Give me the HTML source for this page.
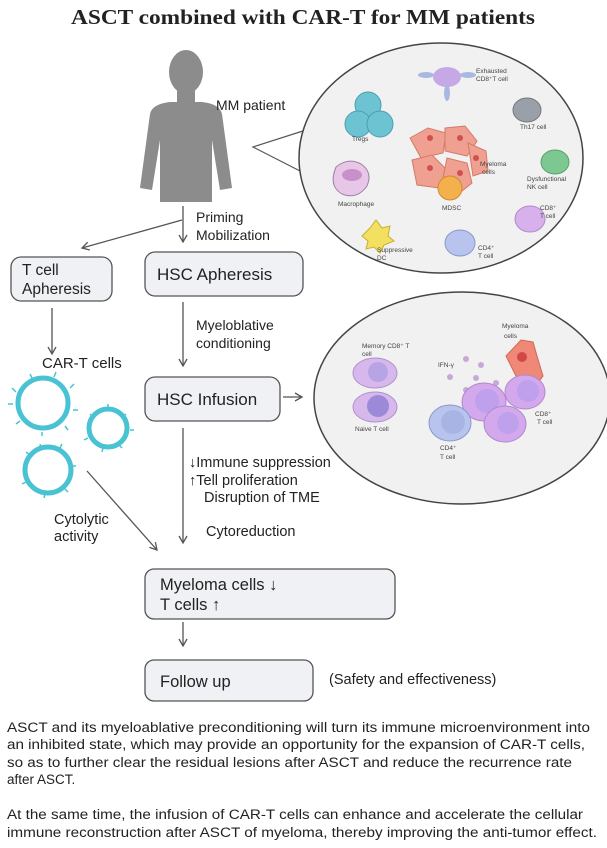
<!DOCTYPE html>
<html><head><meta charset="utf-8"><style>
html,body{margin:0;padding:0;background:#fff;}
svg{display:block;font-family:"Liberation Sans",Arial,sans-serif;}
</style></head><body>
<svg width="607" height="848" viewBox="0 0 607 848" xmlns="http://www.w3.org/2000/svg">
<defs>
<marker id="a" markerWidth="10" markerHeight="10" refX="8" refY="5" orient="auto" markerUnits="userSpaceOnUse">
<path d="M1,1 L8,5 L1,9" fill="none" stroke="#555" stroke-width="1.3"/></marker>
</defs>
<text x="303" y="24" text-anchor="middle" font-size="21" font-weight="bold" fill="#222" font-family="Liberation Serif, serif" textLength="464" lengthAdjust="spacingAndGlyphs">ASCT combined with CAR-T for MM patients</text>

<!-- person -->
<g fill="#8c8c8c">
<ellipse cx="186" cy="72" rx="17" ry="22"/>
<rect x="177" y="88" width="18" height="16"/>
<path d="M150,114 Q152,104 170,102 L202,102 Q220,104 222,114 L232,188 L220,190 L212,140 L212,202 L160,202 L160,140 L152,190 L140,188 Z"/>
</g>
<text x="216" y="110" font-size="14" fill="#222">MM  patient</text>

<!-- big circle 1 -->
<path d="M306,130 L253,147 L302,172" fill="none" stroke="#555" stroke-width="1.2"/>
<ellipse cx="441" cy="158" rx="142" ry="115" fill="#f1f1f1" stroke="#444" stroke-width="1.5"/>
<g font-size="6.5" fill="#444">
<ellipse cx="447" cy="77" rx="14" ry="10" fill="#c6a8e6"/>
<ellipse cx="426" cy="75" rx="8" ry="3" fill="#a8b8e0"/><ellipse cx="468" cy="75" rx="8" ry="3" fill="#a8b8e0"/>
<ellipse cx="447" cy="93" rx="3" ry="8" fill="#a8b8e0"/>
<text x="476" y="73">Exhausted</text><text x="476" y="81">CD8⁺T cell</text>
<circle cx="368" cy="105" r="13" fill="#6ec3d3" stroke="#4a9fb0"/>
<circle cx="358" cy="124" r="13" fill="#6ec3d3" stroke="#4a9fb0"/>
<circle cx="380" cy="124" r="13" fill="#6ec3d3" stroke="#4a9fb0"/>
<text x="352" y="141">Tregs</text>
<ellipse cx="527" cy="110" rx="14" ry="12" fill="#9aa0aa" stroke="#777"/>
<text x="520" y="129">Th17 cell</text>
<g fill="#f0a090" stroke="#d47a68">
<path d="M410,138 l18,-10 18,5 -3,20 -22,5 z"/><path d="M445,128 l20,-2 12,15 -10,15 -22,-5 z"/>
<path d="M412,160 l20,-5 15,15 -8,18 -22,-3 z"/><path d="M447,158 l20,5 5,20 -15,12 -15,-12 z"/>
<path d="M468,143 l18,8 2,20 -15,5 z"/>
</g>
<g fill="#d05050"><circle cx="430" cy="138" r="3"/><circle cx="460" cy="138" r="3"/><circle cx="430" cy="168" r="3"/><circle cx="460" cy="173" r="3"/><circle cx="476" cy="158" r="3"/></g>
<text x="480" y="166">Myeloma</text><text x="482" y="174">cells</text>
<circle cx="450" cy="188" r="12" fill="#f3b04c" stroke="#d08a30"/>
<text x="442" y="210">MDSC</text>
<path d="M336,167 q12,-10 25,-3 q12,8 6,22 q-10,14 -25,8 q-14,-8 -6,-27z" fill="#e8c6e8" stroke="#a080a8"/>
<ellipse cx="352" cy="175" rx="10" ry="6" fill="#c890c8"/>
<text x="338" y="206">Macrophage</text>
<ellipse cx="555" cy="162" rx="14" ry="12" fill="#7cc890" stroke="#5aa070"/>
<text x="527" y="181">Dysfunctional</text><text x="527" y="189">NK cell</text>
<ellipse cx="530" cy="219" rx="15" ry="13" fill="#d8b0ec" stroke="#b088c8"/>
<text x="540" y="210">CD8⁺</text><text x="540" y="218">T cell</text>
<path d="M370,228 l6,-8 6,8 8,-2 -2,10 6,5 -10,4 -4,8 -6,-6 -8,2 2,-8 -6,-5z" fill="#f3e060" stroke="#c8b030"/>
<text x="377" y="252">Suppressive</text><text x="377" y="260">DC</text>
<ellipse cx="460" cy="243" rx="15" ry="13" fill="#b8c4ee" stroke="#8898cc"/>
<text x="478" y="250">CD4⁺</text><text x="478" y="258">T cell</text>
</g>

<!-- priming -->
<line x1="183" y1="206" x2="183" y2="242" stroke="#555" stroke-width="1.3" marker-end="url(#a)"/>
<line x1="182" y1="220" x2="82" y2="248" stroke="#555" stroke-width="1.3" marker-end="url(#a)"/>
<text x="196" y="222" font-size="14" fill="#222">Priming</text>
<text x="196" y="240" font-size="14" fill="#222">Mobilization</text>

<rect x="11" y="257" width="101" height="44" rx="10" fill="#f0f1f5" stroke="#555" stroke-width="1.3"/>
<text x="22" y="275" font-size="15.5" fill="#222">T cell</text>
<text x="22" y="294" font-size="15.5" fill="#222">Apheresis</text>
<rect x="145" y="252" width="158" height="44" rx="10" fill="#f0f1f5" stroke="#555" stroke-width="1.3"/>
<text x="157" y="280" font-size="17" fill="#222">HSC Apheresis</text>

<line x1="52" y1="308" x2="52" y2="354" stroke="#555" stroke-width="1.3" marker-end="url(#a)"/>
<text x="42" y="368" font-size="15" fill="#222">CAR-T cells</text>
<line x1="183" y1="302" x2="183" y2="366" stroke="#555" stroke-width="1.3" marker-end="url(#a)"/>
<text x="196" y="330" font-size="14" fill="#222">Myeloblative</text>
<text x="196" y="348" font-size="14" fill="#222">conditioning</text>

<!-- CAR-T circles -->
<g fill="#fff" stroke="#49c3d3" stroke-width="5">
<circle cx="43" cy="403" r="25"/><circle cx="108" cy="428" r="19"/><circle cx="48" cy="470" r="23"/>
</g>
<g stroke="#49c3d3" stroke-width="1.5" fill="none">
<path d="M12,388 l4,4 M30,374 l2,4 M56,372 l-2,5 M74,384 l-4,4 M78,410 l-5,0 M68,430 l-3,-4 M42,436 l0,-4 M16,424 l4,-3 M8,404 l5,0"/>
<path d="M90,414 l3,3 M108,404 l0,4 M126,414 l-3,3 M134,430 l-4,0 M122,448 l-3,-3 M102,452 l1,-4 M84,440 l4,-2"/>
<path d="M26,452 l4,3 M40,444 l1,4 M62,444 l-2,4 M76,466 l-4,0 M68,492 l-3,-3 M44,498 l1,-4 M22,484 l4,-2"/>
</g>

<rect x="145" y="377" width="135" height="44" rx="10" fill="#f0f1f5" stroke="#555" stroke-width="1.3"/>
<text x="157" y="405" font-size="17" fill="#222">HSC Infusion</text>
<line x1="283" y1="397" x2="302" y2="397" stroke="#555" stroke-width="1.3" marker-end="url(#a)"/>

<!-- circle 2 -->
<ellipse cx="462" cy="398" rx="148" ry="106" fill="#f1f1f1" stroke="#444" stroke-width="1.5"/>
<g font-size="6.5" fill="#444">
<text x="362" y="348">Memory CD8⁺ T</text><text x="362" y="356">cell</text>
<ellipse cx="375" cy="373" rx="22" ry="15" fill="#d6b8ec" stroke="#b090cc"/><circle cx="378" cy="372" r="10" fill="#b8a4e4"/>
<ellipse cx="375" cy="407" rx="22" ry="15" fill="#d6b8ec" stroke="#b090cc"/><circle cx="378" cy="406" r="11" fill="#9c8ad8"/>
<text x="355" y="431">Naive T cell</text>
<text x="438" y="367">IFN-γ</text>
<g fill="#c8a8d8"><circle cx="466" cy="359" r="3"/><circle cx="481" cy="365" r="3"/><circle cx="450" cy="377" r="3"/><circle cx="476" cy="378" r="3"/><circle cx="466" cy="390" r="3"/><circle cx="496" cy="383" r="3"/></g>
<text x="502" y="328">Myeloma</text><text x="504" y="338">cells</text>
<path d="M506,356 l15,-16 12,2 4,14 6,20 -6,8 -20,-6 z" fill="#f08878" stroke="#d06858"/><circle cx="522" cy="357" r="5" fill="#d04848"/>
<ellipse cx="484" cy="402" rx="22" ry="19" fill="#d4a8ec" stroke="#b088cc"/><circle cx="487" cy="401" r="12" fill="#bea0ec"/>
<ellipse cx="525" cy="392" rx="20" ry="17" fill="#d4a8ec" stroke="#b088cc"/><circle cx="528" cy="391" r="11" fill="#bea0ec"/>
<ellipse cx="505" cy="424" rx="21" ry="18" fill="#d4a8ec" stroke="#b088cc"/><circle cx="508" cy="423" r="11" fill="#bea0ec"/>
<text x="535" y="416">CD8⁺</text><text x="537" y="424">T cell</text>
<ellipse cx="450" cy="423" rx="21" ry="18" fill="#b8c4ee" stroke="#8898cc"/><circle cx="453" cy="422" r="12" fill="#a8b4e4"/>
<text x="440" y="450">CD4⁺</text><text x="440" y="459">T cell</text>
</g>

<line x1="183" y1="428" x2="183" y2="543" stroke="#555" stroke-width="1.3" marker-end="url(#a)"/>
<text x="189" y="467" font-size="14.5" fill="#222">↓Immune suppression</text>
<text x="189" y="485" font-size="14.5" fill="#222">↑Tell proliferation</text>
<text x="204" y="502" font-size="14.5" fill="#222">Disruption of TME</text>
<text x="206" y="536" font-size="14.5" fill="#222">Cytoreduction</text>
<line x1="87" y1="471" x2="157" y2="550" stroke="#555" stroke-width="1.3" marker-end="url(#a)"/>
<text x="54" y="524" font-size="14.5" fill="#222">Cytolytic</text>
<text x="54" y="541" font-size="14.5" fill="#222">activity</text>

<rect x="145" y="569" width="250" height="50" rx="9" fill="#f0f1f5" stroke="#555" stroke-width="1.3"/>
<text x="160" y="590" font-size="16.5" fill="#222">Myeloma cells ↓</text>
<text x="160" y="610" font-size="16.5" fill="#222">T cells ↑</text>
<line x1="183" y1="622" x2="183" y2="646" stroke="#555" stroke-width="1.3" marker-end="url(#a)"/>
<rect x="145" y="660" width="168" height="41" rx="9" fill="#f0f1f5" stroke="#555" stroke-width="1.3"/>
<text x="160" y="687" font-size="16.5" fill="#222">Follow up</text>
<text x="329" y="684" font-size="14.5" fill="#222">(Safety and effectiveness)</text>

<g font-size="13.5" fill="#222">
<text x="7" y="732" textLength="583" lengthAdjust="spacingAndGlyphs">ASCT and its myeloablative preconditioning will turn its immune microenvironment into</text>
<text x="7" y="749" textLength="578" lengthAdjust="spacingAndGlyphs">an inhibited state, which may provide an opportunity for the expansion of CAR-T cells,</text>
<text x="7" y="767" textLength="565" lengthAdjust="spacingAndGlyphs">so as to further clear the residual lesions after ASCT and reduce the recurrence rate</text>
<text x="7" y="784">after ASCT.</text>
<text x="7" y="819" textLength="576" lengthAdjust="spacingAndGlyphs">At the same time, the infusion of CAR-T cells can enhance and accelerate the cellular</text>
<text x="7" y="837" textLength="590" lengthAdjust="spacingAndGlyphs">immune reconstruction after ASCT of myeloma, thereby improving the anti-tumor effect.</text>
</g>
</svg>
</body></html>
